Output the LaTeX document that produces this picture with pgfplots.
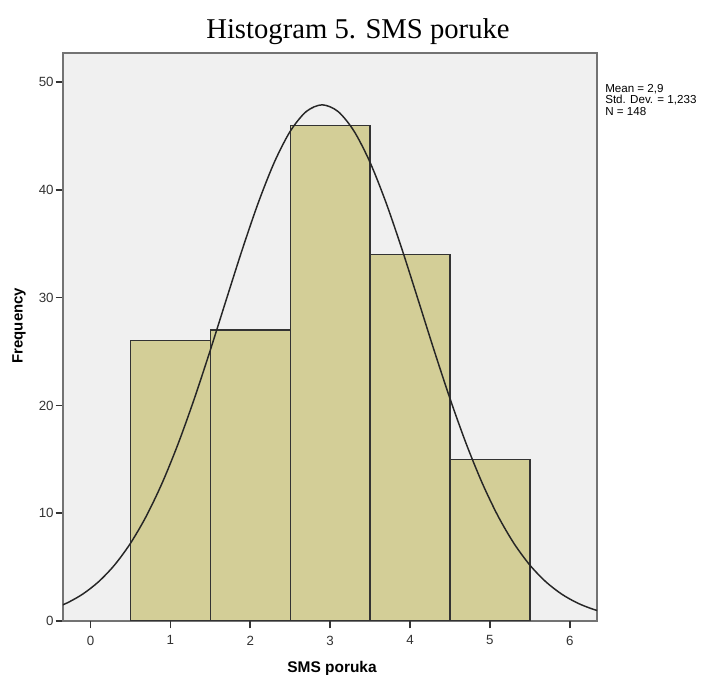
\documentclass[border=0pt]{standalone}
\usepackage{fontspec}
\setmainfont{Liberation Sans}
\newfontfamily\titlefont{Liberation Serif}
\usepackage{pgfplots}
\pgfplotsset{compat=1.18}
\definecolor{barfill}{RGB}{211,206,151}
\definecolor{bgfill}{RGB}{240,240,240}

\begin{document}
\begin{tikzpicture}
\useasboundingbox (-47.25pt,-40.5pt) rectangle (489pt,465.75pt);
\begin{axis}[
 at={(0pt,0pt)}, anchor=south west,
 scale only axis, width=400.5pt, height=426pt,
 xmin=-0.344, xmax=6.34, ymin=0, ymax=52.7,
 xtick={0,1,2,3,4,5,6}, ytick={0,10,20,30,40,50},
 xtick pos=bottom, ytick pos=left,
 tick align=outside, major tick length=5.5pt,
 major tick style={black!80, line width=1.2pt},
 axis background/.style={fill=bgfill},
 axis line style={black!55, line width=1.2pt},
 ticklabel style={font=\fontsize{10}{11}\selectfont, text=black!80},
 xticklabel style={yshift=-2pt},
 yticklabel style={xshift=2pt},
 /pgf/number format/assume math mode=true,
 clip=true,
]
\addplot[ybar interval, fill=barfill, draw=black!80, line width=1pt] coordinates {(0.5,26) (1.5,27) (2.5,46) (3.5,34) (4.5,15) (5.5,15)};
\addplot[smooth, black!85, line width=1.1pt] coordinates {
(-0.5,1.069) (-0.3,1.651) (-0.1,2.483) (0.1,3.634) (0.3,5.184) (0.5,7.204)
(0.7,9.749) (0.9,12.851) (1.1,16.500) (1.3,20.634) (1.5,25.135) (1.7,29.824)
(1.9,34.468) (2.1,38.799) (2.3,42.543) (2.5,45.435) (2.7,47.264) (2.9,47.890)
(3.1,47.264) (3.3,45.435) (3.5,42.543) (3.7,38.799) (3.9,34.468) (4.1,29.824)
(4.3,25.135) (4.5,20.634) (4.7,16.500) (4.9,12.851) (5.1,9.749) (5.3,7.204)
(5.5,5.184) (5.7,3.634) (5.9,2.483) (6.1,1.651) (6.3,1.069) (6.5,0.675)};
\end{axis}
\foreach \t in {20.61,80.53,140.45,200.37,260.29,320.21,380.13}{
  \draw[black!80, line width=1.3pt] (\t pt,0pt) -- (\t pt,-5.5pt);
}
\node[font=\titlefont\fontsize{21.5}{24}\selectfont] at (221.25pt,442pt) {Histogram 5. SMS poruke};
\node[anchor=north west, align=left, inner sep=0pt, font=\fontsize{8.7}{8.8}\selectfont] at (406.5pt,403pt) {Mean = 2,9\\Std. Dev. = 1,233\\N = 148};
\node[rotate=90, font=\bfseries\fontsize{11.2}{12}\selectfont] at (-33pt,221.5pt) {Frequency};
\node[anchor=base, font=\bfseries\fontsize{11.6}{12}\selectfont] at (201.75pt,-38.8pt) {SMS poruka};
\end{tikzpicture}
\end{document}
